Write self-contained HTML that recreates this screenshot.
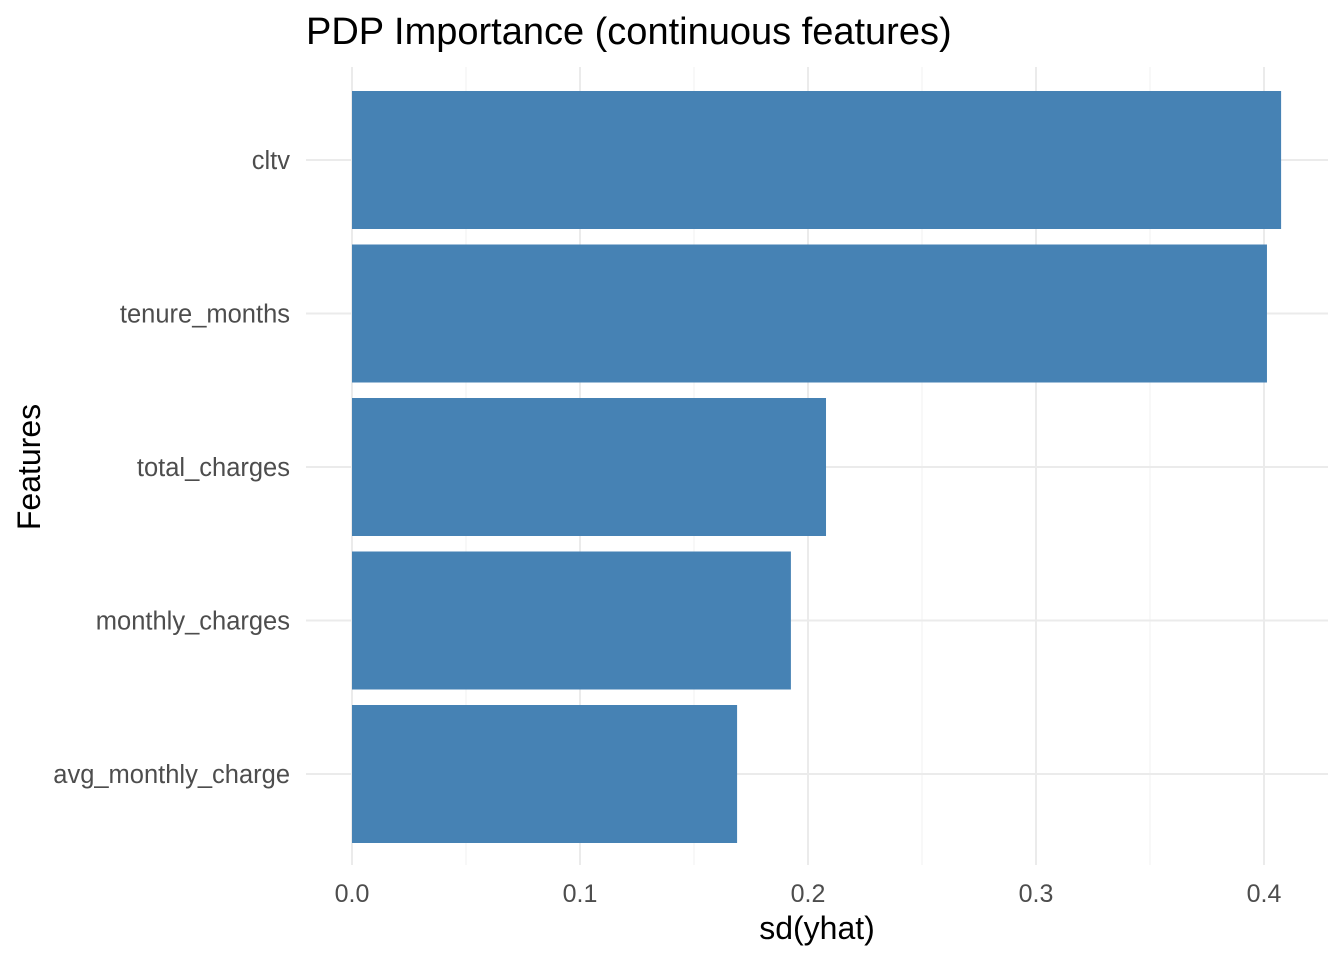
<!DOCTYPE html>
<html><head><meta charset="utf-8"><style>
body{margin:0;background:#fff;}
svg text{font-family:"Liberation Sans",Arial,sans-serif;}
</style></head><body>
<svg id="chart" width="1344" height="960" xmlns="http://www.w3.org/2000/svg">
<rect width="1344" height="960" fill="#fff"/>
<text x="306" y="44" font-size="38" fill="#000">PDP Importance (continuous features)</text>
<g id="grid"></g>
<g id="bars"></g>
<g id="xticks"></g>
<g id="yticks"></g>
<text x="817" y="939" font-size="32" text-anchor="middle" fill="#000">sd(yhat)</text>
<text transform="translate(40,467) rotate(-90)" font-size="32" text-anchor="middle" fill="#000">Features</text>
</svg>
<script>
const categories = ["cltv","tenure_months","total_charges","monthly_charges","avg_monthly_charge"];
const values = [0.4075,0.4013,0.2079,0.1925,0.1689];
const xTicks = [0,0.1,0.2,0.3,0.4];
const xTickLabels = ["0.0","0.1","0.2","0.3","0.4"];
const xMinor = [0.05,0.15,0.25,0.35];

const NS="http://www.w3.org/2000/svg";
const panelR=1328, panelT=67, panelB=865;
function xs(v){return 352+v*2280;}
function ys(i){return 160+i*153.5;}
const bandH=138;
function mk(tag,attrs,parent){const e=document.createElementNS(NS,tag);for(const k in attrs)e.setAttribute(k,attrs[k]);document.getElementById(parent).appendChild(e);return e;}

xMinor.forEach(v=>{
  const l=mk('line',{x1:xs(v),x2:xs(v),y1:panelT,y2:panelB,stroke:'#f2f2f2','stroke-width':1},'grid');
  
  
});
xTicks.forEach((v,i)=>{
  const l=mk('line',{x1:xs(v),x2:xs(v),y1:panelT,y2:panelB,stroke:'#ebebeb','stroke-width':2},'grid');
  
  
  const t=mk('text',{x:xs(v),y:902,'font-size':25,'text-anchor':'middle',fill:'#4d4d4d'},'xticks');
  t.textContent=xTickLabels[i];
  
  
});
categories.forEach((c,i)=>{
  const y=ys(i);
  const g=mk('line',{x1:306,x2:panelR,y1:y,y2:y,stroke:'#ebebeb','stroke-width':2},'grid');
  
  
  const b=mk('rect',{x:xs(0),y:y-bandH/2,width:xs(values[i])-xs(0),height:bandH,fill:'#4682b4'},'bars');
  
  
  const t=mk('text',{x:290,y:y+9,'font-size':25.5,'text-anchor':'end',fill:'#4d4d4d'},'yticks');
  t.textContent=c;
  
  
});
</script>
</body></html>
